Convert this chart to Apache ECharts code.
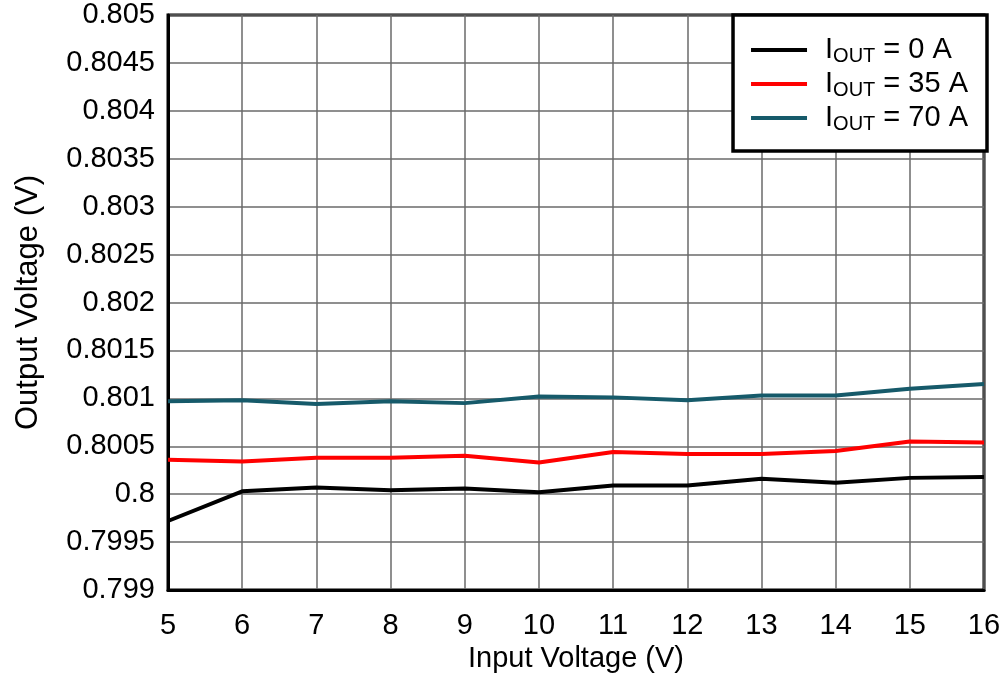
<!DOCTYPE html>
<html><head><meta charset="utf-8">
<script src="https://cdn.jsdelivr.net/npm/echarts@6/dist/echarts.min.js"></script>
<style>html,body{margin:0;padding:0;background:#fff}#c{width:1005px;height:676px}</style>
</head><body><div id="c"></div>
<script>
const inputVoltage = [5,6,7,8,9,10,11,12,13,14,15,16];
const iout0  = [0.79972,0.80003,0.80007,0.80004,0.80006,0.80002,0.80009,0.80009,0.80016,0.80012,0.80017,0.80018];
const iout35 = [0.80036,0.80034,0.80038,0.80038,0.80040,0.80033,0.80044,0.80042,0.80042,0.80045,0.80055,0.80054];
const iout70 = [0.80097,0.80098,0.80094,0.80097,0.80095,0.80102,0.80101,0.80098,0.80103,0.80103,0.80110,0.80115];
const seriesNames = ['0 A','35 A','70 A'];
const seriesColors = ['#000000','#ff0000','#165a6a'];
const F = 'Liberation Sans, Arial, sans-serif';
const chart = echarts.init(document.getElementById('c'));
const mk = (name, data, color) => ({
  name, type:'line', data: inputVoltage.map((x,i)=>[x,data[i]]),
  showSymbol:false, symbol:'none', lineStyle:{color, width:4}, itemStyle:{color}
});
chart.setOption({
  animation:false,
  grid:{left:168, top:15, right:21, bottom:86, show:true, borderColor:'#000', borderWidth:3,
        containLabel:false, outerBoundsMode:'none'},
  legend:{
    right:18, top:15, orient:'vertical', icon:'rect', itemWidth:56, itemHeight:4, itemGap:2,
    backgroundColor:'#fff', borderColor:'#000', borderWidth:3.5, padding:[19,19,17,18],
    formatter: n => '{i|I}{s|OUT}{i| = ' + n + '}',
    textStyle:{ rich:{
      i:{fontFamily:F, fontSize:29, color:'#000', lineHeight:30},
      s:{fontFamily:F, fontSize:20, color:'#000', lineHeight:18, padding:[12,0,0,0]}
    }, padding:[0,0,0,13]},
    data: seriesNames
  },
  xAxis:{
    type:'value', min:5, max:16, interval:1,
    name:'Input Voltage (V)', nameLocation:'middle', nameGap:37,
    nameTextStyle:{fontFamily:F, fontSize:29, color:'#000'},
    axisLine:{show:true, lineStyle:{color:'#000', width:3}},
    axisTick:{show:false},
    axisLabel:{fontFamily:F, fontSize:29, color:'#000', margin:21},
    splitLine:{show:true, lineStyle:{color:'#6a6a6a', width:1.5}}
  },
  yAxis:{
    type:'value', min:0.799, max:0.805, interval:0.0005,
    name:'Output Voltage (V)', nameLocation:'middle', nameGap:124,
    nameTextStyle:{fontFamily:F, fontSize:31, color:'#000'},
    axisLine:{show:true, lineStyle:{color:'#000', width:3}},
    axisTick:{show:false},
    axisLabel:{fontFamily:F, fontSize:29, color:'#000', margin:13,
      formatter: v => String(parseFloat(v.toFixed(4)))},
    splitLine:{show:true, lineStyle:{color:'#6a6a6a', width:1.5}}
  },
  series:[mk(seriesNames[0], iout0, seriesColors[0]), mk(seriesNames[1], iout35, seriesColors[1]), mk(seriesNames[2], iout70, seriesColors[2])]
});
</script></body></html>
